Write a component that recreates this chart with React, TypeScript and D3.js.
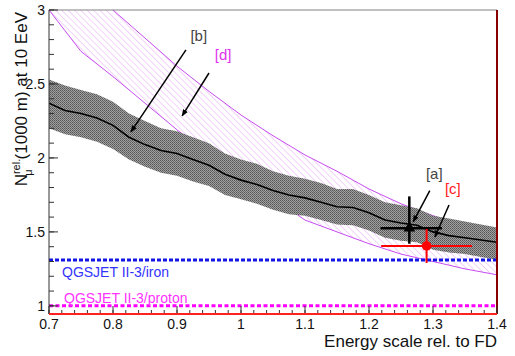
import React from "react";
import * as d3 from "d3";

// ---- data ----
const energyScale = [0.7, 0.725, 0.75, 0.775, 0.8, 0.825, 0.85, 0.875, 0.9, 0.925, 0.95, 0.975, 1.0, 1.025, 1.05, 1.075, 1.1, 1.125, 1.15, 1.175, 1.2, 1.225, 1.25, 1.275, 1.3, 1.325, 1.35, 1.375, 1.4];
const bandCentre = [2.37, 2.32, 2.3, 2.27, 2.22, 2.14, 2.09, 2.05, 2.03, 1.99, 1.95, 1.89, 1.85, 1.82, 1.78, 1.75, 1.73, 1.7, 1.67, 1.665, 1.63, 1.58, 1.56, 1.545, 1.5, 1.475, 1.46, 1.445, 1.43];
const bandUpper = [2.53, 2.49, 2.46, 2.43, 2.38, 2.3, 2.25, 2.2, 2.18, 2.14, 2.1, 2.03, 1.99, 1.96, 1.91, 1.88, 1.86, 1.83, 1.79, 1.79, 1.75, 1.7, 1.68, 1.66, 1.61, 1.59, 1.57, 1.55, 1.53];
const bandLower = [2.2, 2.16, 2.14, 2.11, 2.06, 1.99, 1.94, 1.9, 1.88, 1.84, 1.81, 1.75, 1.72, 1.69, 1.65, 1.62, 1.61, 1.58, 1.55, 1.545, 1.51, 1.46, 1.44, 1.43, 1.38, 1.36, 1.35, 1.33, 1.31];

const bandDX = [0.7, 0.75, 0.8, 0.85, 0.9, 0.95, 1.0, 1.05, 1.1, 1.15, 1.2, 1.25, 1.3, 1.35, 1.4];
const bandDUpper = [3.38, 3.19, 3.0, 2.81, 2.62, 2.45, 2.29, 2.15, 2.02, 1.91, 1.79, 1.69, 1.61, 1.54, 1.48];
const bandDLower = [3.0, 2.72, 2.55, 2.37, 2.19, 2.03, 1.88, 1.73, 1.58, 1.5, 1.42, 1.35, 1.3, 1.25, 1.21];

const ironLevel = 1.31;
const protonLevel = 1.0;

const pointA = { x: 1.263, y: 1.525, xLo: 1.218, xHi: 1.314, yLo: 1.42, yHi: 1.74 };
const pointC = { x: 1.29, y: 1.405, xLo: 1.219, xHi: 1.361, yLo: 1.29, yHi: 1.52 };

const annotations = [
  { label: "[b]", color: "#444", tx: 0.934, ty: 2.79, x1: 0.914, y1: 2.73, x2: 0.828, y2: 2.176 },
  { label: "[d]", color: "#dd33ee", tx: 0.972, ty: 2.66, x1: 0.95, y1: 2.574, x2: 0.908, y2: 2.284 },
  { label: "[a]", color: "#444", tx: 1.302, ty: 1.86, x1: 1.295, y1: 1.779, x2: 1.269, y2: 1.568 },
  { label: "[c]", color: "#ff2020", tx: 1.331, ty: 1.755, x1: 1.325, y1: 1.682, x2: 1.303, y2: 1.466 },
];

const xTickLabels = ["0.7", "0.8", "0.9", "1", "1.1", "1.2", "1.3", "1.4"];
const yTickLabels = ["1", "1.5", "2", "2.5", "3"];

export default function App() {
  const W = 515, H = 356;
  const L = 49, R = 497, T = 10, B = 314;
  const x = d3.scaleLinear().domain([0.7, 1.4]).range([L, R]);
  const y = d3.scaleLinear().domain([0.945, 3]).range([B, T]);
  const font = "'Liberation Sans', Arial, sans-serif";

  const grayArea = d3.area<number>()
    .x((_, i) => x(energyScale[i]))
    .y0((_, i) => y(bandLower[i]))
    .y1((_, i) => y(bandUpper[i]));
  const centreLine = d3.line<number>()
    .x((_, i) => x(energyScale[i]))
    .y((d) => y(d));
  const dArea = d3.area<number>()
    .x((_, i) => x(bandDX[i]))
    .y0((_, i) => y(bandDLower[i]))
    .y1((_, i) => y(bandDUpper[i]));
  const dEdge = d3.line<number>().x((_, i) => x(bandDX[i])).y((d) => y(d));

  const xMajor = xTickLabels.map((s) => +s);
  const xMinor = d3.range(0.7, 1.4001, 0.02);
  const yMajor = yTickLabels.map((s) => +s);
  const yMinor = d3.range(1.0, 3.0001, 0.1);

  const triangle = d3.symbol(d3.symbolTriangle, 60)();

  return (
    <svg width={W} height={H} style={{ position: "absolute", left: 0, top: 0, background: "#fff" }} fontFamily={font}>
      <defs>
        <clipPath id="plot">
          <rect x={L} y={T} width={R - L} height={B - T} />
        </clipPath>
        <pattern id="grayPat" patternUnits="userSpaceOnUse" width={2} height={2}>
          <rect width={2} height={2} fill="#a0a0a0" />
          <rect x={0} y={0} width={1} height={1} fill="#555" />
          <rect x={1} y={1} width={1} height={1} fill="#6a6a6a" />
        </pattern>
        <pattern id="hatch" patternUnits="userSpaceOnUse" width={4.5} height={4.5} patternTransform="rotate(-45)">
          <line x1={0} y1={0} x2={0} y2={4.5} stroke="#e6a6f6" strokeWidth={1} />
        </pattern>
        <marker id="arr" viewBox="0 0 10 10" refX={9} refY={5} markerWidth={7} markerHeight={7} orient="auto" markerUnits="userSpaceOnUse">
          <path d="M0,1 L10,5 L0,9 Z" fill="#000" />
        </marker>
      </defs>

      <g clipPath="url(#plot)">
        <path d={dArea(bandDX as any) || ""} fill="url(#hatch)" />
        <path d={dEdge(bandDUpper) || ""} fill="none" stroke="#c64cf0" strokeWidth={1} />
        <path d={dEdge(bandDLower) || ""} fill="none" stroke="#c64cf0" strokeWidth={1} />
        <path d={grayArea(energyScale as any) || ""} fill="url(#grayPat)" />
        <path d={centreLine(bandCentre) || ""} fill="none" stroke="#000" strokeWidth={1.6} />

        <line x1={L} x2={R} y1={y(ironLevel)} y2={y(ironLevel)} stroke="#1414e6" strokeWidth={3} strokeDasharray="4 2" />
        <line x1={L} x2={R} y1={y(protonLevel)} y2={y(protonLevel)} stroke="#ff00ff" strokeWidth={3} strokeDasharray="4 2.5" />
      </g>

      <text x={62} y={y(ironLevel) + 17} fontSize={14} fill="#3333ff">QGSJET II-3/iron</text>
      <text x={64} y={y(protonLevel) - 3} fontSize={14} fill="#ff33ff">QGSJET II-3/proton</text>

      {/* data points */}
      <g stroke="#000" strokeWidth={2.5}>
        <line x1={x(pointA.xLo)} x2={x(pointA.xHi)} y1={y(pointA.y)} y2={y(pointA.y)} />
        <line x1={x(pointA.x)} x2={x(pointA.x)} y1={y(pointA.yLo)} y2={y(pointA.yHi)} />
      </g>
      <path d={triangle || ""} transform={`translate(${x(pointA.x)},${y(pointA.y)})`} fill="#000" />
      <g stroke="#ff0000" strokeWidth={2}>
        <line x1={x(pointC.xLo)} x2={x(pointC.xHi)} y1={y(pointC.y)} y2={y(pointC.y)} />
        <line x1={x(pointC.x)} x2={x(pointC.x)} y1={y(pointC.yLo)} y2={y(pointC.yHi)} />
      </g>
      <circle cx={x(pointC.x)} cy={y(pointC.y)} r={4.8} fill="#ff0000" />

      {/* annotations */}
      {annotations.map((a) => (
        <g key={a.label}>
          <line x1={x(a.x1)} y1={y(a.y1)} x2={x(a.x2)} y2={y(a.y2)} stroke="#000" strokeWidth={1.5} markerEnd="url(#arr)" />
          <text x={x(a.tx)} y={y(a.ty)} fontSize={15} fill={a.color} textAnchor="middle">{a.label}</text>
        </g>
      ))}

      {/* frame */}
      <line x1={L} x2={R} y1={T} y2={T} stroke="#808080" strokeWidth={1} />
      <line x1={R} x2={R} y1={T} y2={B} stroke="#8a0000" strokeWidth={2} />
      <line x1={L} x2={L} y1={T} y2={B} stroke="#333" strokeWidth={1} />

      {/* x axis */}
      {xMinor.map((v, i) => (
        <line key={"xm" + i} x1={x(v)} x2={x(v)} y1={B} y2={B - 4} stroke="#333" strokeWidth={1} />
      ))}
      {xMajor.map((v, i) => (
        <g key={"xM" + i}>
          <line x1={x(v)} x2={x(v)} y1={B} y2={B - 8} stroke="#333" strokeWidth={1} />
          <text x={x(v)} y={329} fontSize={14} textAnchor="middle" fill="#111">{xTickLabels[i]}</text>
        </g>
      ))}
      <line x1={L} x2={R} y1={B} y2={B} stroke="#ff2020" strokeWidth={2} />
      <text x={R} y={347} fontSize={17} textAnchor="end" fill="#111">Energy scale rel. to FD</text>

      {/* y axis */}
      {yMinor.map((v, i) => (
        <line key={"ym" + i} x1={L} x2={L + 5} y1={y(v)} y2={y(v)} stroke="#333" strokeWidth={1} />
      ))}
      {yMajor.map((v, i) => (
        <g key={"yM" + i}>
          <line x1={L} x2={L + 9} y1={y(v)} y2={y(v)} stroke="#333" strokeWidth={1} />
          <text x={45} y={y(v) + 5} fontSize={14} textAnchor="end" fill="#111">{yTickLabels[i]}</text>
        </g>
      ))}
      <text transform="translate(27,12) rotate(-90)" fontSize={17} textAnchor="end" fill="#111">
        <tspan>N</tspan>
        <tspan fontSize={11} dy={-7}>rel.</tspan>
        <tspan fontSize={11} dx={-17} dy={12}>μ</tspan>
        <tspan dx={10} dy={-5}>(1000 m) at 10 EeV</tspan>
      </text>
    </svg>
  );
}
